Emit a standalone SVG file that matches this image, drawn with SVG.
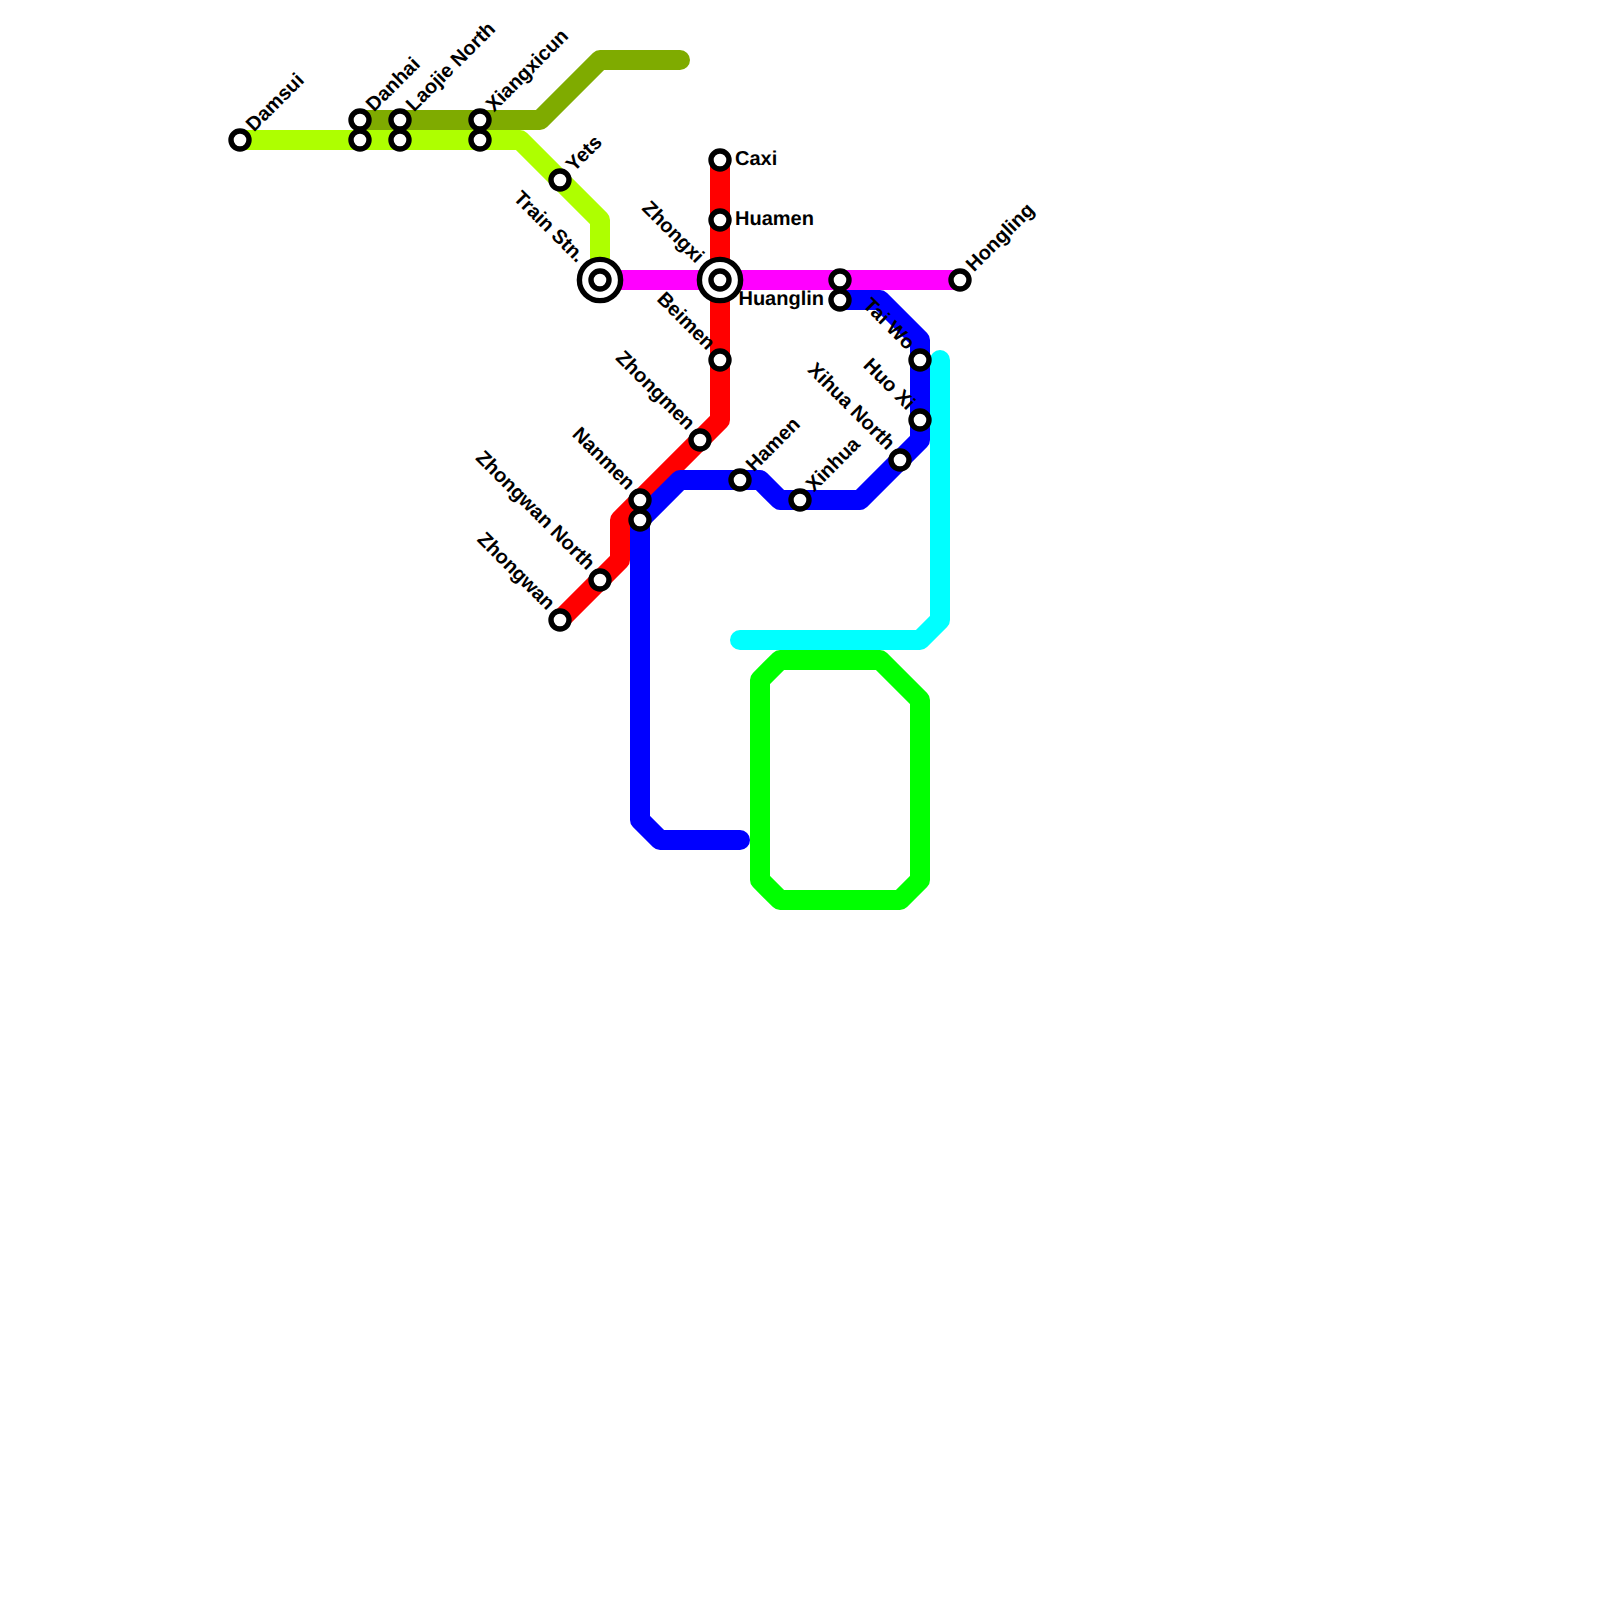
<svg xmlns="http://www.w3.org/2000/svg" width="1600" height="1600" viewBox="0 0 1600 1600">
<style>
.l{fill:none;stroke-width:20;stroke-linecap:round;stroke-linejoin:round}
.s{fill:#fff;stroke:#000;stroke-width:5.4}
text{font-family:"Liberation Sans",Arial,sans-serif;font-weight:700;font-size:20px;fill:#000;text-rendering:geometricPrecision}
.e{text-anchor:end}
</style>
<rect width="1600" height="1600" fill="#fff"/>
<g id="connectors">
<path class="l" stroke="#7fab00" d="M360 120H540L600 60H680"/>
<path class="l" stroke="#aeff00" d="M240 140H520L600 220V280"/>
<path class="l" stroke="#ff0000" d="M720 160V420L620 520V560L560 620"/>
<path class="l" stroke="#ff00ff" d="M600 280H960"/>
<path class="l" stroke="#0000ff" d="M840 300H880L920 340V440L860 500H780L760 480H680L640 520V820L660 840H740"/>
<path class="l" stroke="#00ffff" d="M740 640H920L940 620V360"/>
<path class="l" stroke="#00ff00" d="M780 660H880L920 700V880L900 900H780L760 880V680Z"/>
</g>
<g id="damsui"><circle class="s" cx="240" cy="140" r="9"/><text transform="translate(254 132.5) rotate(-45)">Damsui</text></g>
<g id="danhai"><circle class="s" cx="360" cy="120" r="9"/><circle class="s" cx="360" cy="140" r="9"/><text transform="translate(374 112.5) rotate(-45)">Danhai</text></g>
<g id="laojie-north"><circle class="s" cx="400" cy="120" r="9"/><circle class="s" cx="400" cy="140" r="9"/><text transform="translate(414 112.5) rotate(-45)">Laojie North</text></g>
<g id="xiangxicun"><circle class="s" cx="480" cy="120" r="9"/><circle class="s" cx="480" cy="140" r="9"/><text transform="translate(494 112.5) rotate(-45)">Xiangxicun</text></g>
<g id="yets"><circle class="s" cx="560" cy="180" r="9"/><text transform="translate(574 172.5) rotate(-45)">Yets</text></g>
<g id="train-stn"><circle class="s" cx="600" cy="280" r="20.6"/><circle class="s" cx="600" cy="280" r="9"/><text class="e" transform="translate(577 263.5) rotate(45)">Train Stn.</text></g>
<g id="zhongxi"><circle class="s" cx="720" cy="280" r="20.6"/><circle class="s" cx="720" cy="280" r="9"/><text class="e" transform="translate(696 264) rotate(45)">Zhongxi</text></g>
<g id="caxi"><circle class="s" cx="720" cy="160" r="9"/><text x="735" y="165">Caxi</text></g>
<g id="huamen"><circle class="s" cx="720" cy="220" r="9"/><text x="735" y="225">Huamen</text></g>
<g id="beimen"><circle class="s" cx="720" cy="360" r="9"/><text class="e" transform="translate(707 351) rotate(45)">Beimen</text></g>
<g id="zhongmen"><circle class="s" cx="700" cy="440" r="9"/><text class="e" transform="translate(687 431) rotate(45)">Zhongmen</text></g>
<g id="nanmen"><circle class="s" cx="640" cy="500" r="9"/><circle class="s" cx="640" cy="520" r="9"/><text class="e" transform="translate(627 491) rotate(45)">Nanmen</text></g>
<g id="zhongwan-north"><circle class="s" cx="600" cy="580" r="9"/><text class="e" transform="translate(587 571) rotate(45)">Zhongwan North</text></g>
<g id="zhongwan"><circle class="s" cx="560" cy="620" r="9"/><text class="e" transform="translate(547 611) rotate(45)">Zhongwan</text></g>
<g id="hamen"><circle class="s" cx="740" cy="480" r="9"/><text transform="translate(754 472.5) rotate(-45)">Hamen</text></g>
<g id="xinhua"><circle class="s" cx="800" cy="500" r="9"/><text transform="translate(814 492.5) rotate(-45)">Xinhua</text></g>
<g id="xihua-north"><circle class="s" cx="900" cy="460" r="9"/><text class="e" transform="translate(887 451) rotate(45)">Xihua North</text></g>
<g id="huo-xi"><circle class="s" cx="920" cy="420" r="9"/><text class="e" transform="translate(907 411) rotate(45)">Huo Xi</text></g>
<g id="tai-wo"><circle class="s" cx="920" cy="360" r="9"/><text class="e" transform="translate(907 351) rotate(45)">Tai Wo</text></g>
<g id="huanglin"><circle class="s" cx="840" cy="280" r="9"/><circle class="s" cx="840" cy="300" r="9"/><text class="e" x="824" y="305">Huanglin</text></g>
<g id="hongling"><circle class="s" cx="960" cy="280" r="9"/><text transform="translate(974 272.5) rotate(-45)">Hongling</text></g>
</svg>
